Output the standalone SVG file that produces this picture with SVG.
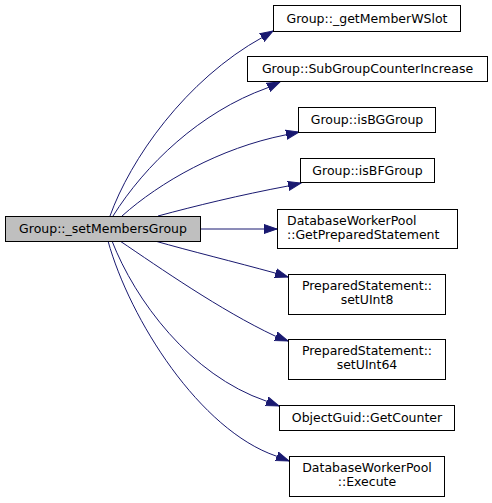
<svg xmlns="http://www.w3.org/2000/svg" width="492" height="503" viewBox="0 0 492 503">
<defs>
<style>
.node rect{fill:#ffffff;stroke:#000000;stroke-width:1}
.node.main rect{fill:#bfbfbf}
.node text{font-family:"DejaVu Sans","Bitstream Vera Sans",sans-serif;font-size:12.5px;fill:#000000}
.edges path{fill:none;stroke:#191970;stroke-width:1;marker-end:url(#arr)}
</style>
<marker id="arr" markerUnits="userSpaceOnUse" markerWidth="14" markerHeight="11" refX="13" refY="5.5" orient="auto">
<path d="M0,1 L13,5.5 L0,10 z" fill="#191970" stroke="#191970" stroke-width="1"/>
</marker>
</defs>
<rect width="492" height="503" fill="#ffffff"/>
<g class="edges">
<path d="M110,216 C130,160 185,80 263,37 L273,31"/>
<path d="M113,216 C145,165 200,112 267,88 L280,82"/>
<path d="M122,216 C160,182 220,148 285,135 L299,132"/>
<path d="M158,216 C195,206 240,195 288,186 L301,183"/>
<path d="M200,229 L264,229 L277,229"/>
<path d="M155,241 C190,251 235,262 275,273 L288,277"/>
<path d="M120,241 C160,268 220,310 275,336 L288,341"/>
<path d="M112,241 C135,300 190,375 266,401 L279,406"/>
<path d="M108,241 C130,320 200,430 276,456 L289,461"/>
</g>
<g id="node_main" class="node main">
<rect x="5.5" y="216.5" width="195" height="25"/>
<text x="103" y="233" text-anchor="middle">Group::_setMembersGroup</text>
</g>
<g id="node_getMemberWSlot" class="node">
<rect x="273.5" y="5.5" width="187" height="26"/>
<text x="367" y="22.5" text-anchor="middle">Group::_getMemberWSlot</text>
</g>
<g id="node_SubGroupCounterIncrease" class="node">
<rect x="247.5" y="56.5" width="240" height="25"/>
<text x="367.5" y="73" text-anchor="middle">Group::SubGroupCounterIncrease</text>
</g>
<g id="node_isBGGroup" class="node">
<rect x="298.5" y="107.5" width="137" height="25"/>
<text x="367" y="123.5" text-anchor="middle">Group::isBGGroup</text>
</g>
<g id="node_isBFGroup" class="node">
<rect x="300.5" y="158.5" width="134" height="24"/>
<text x="367.5" y="174.5" text-anchor="middle">Group::isBFGroup</text>
</g>
<g id="node_GetPreparedStatement" class="node">
<rect x="277.5" y="209.5" width="180" height="39"/>
<text x="287" y="225">DatabaseWorkerPool</text>
<text x="287" y="239">::GetPreparedStatement</text>
</g>
<g id="node_setUInt8" class="node">
<rect x="288.5" y="274.5" width="157" height="40"/>
<text x="367" y="290" text-anchor="middle">PreparedStatement::</text>
<text x="367" y="304" text-anchor="middle">setUInt8</text>
</g>
<g id="node_setUInt64" class="node">
<rect x="288.5" y="339.5" width="157" height="40"/>
<text x="367" y="355" text-anchor="middle">PreparedStatement::</text>
<text x="367" y="369" text-anchor="middle">setUInt64</text>
</g>
<g id="node_GetCounter" class="node">
<rect x="279.5" y="405.5" width="175" height="25"/>
<text x="367" y="422" text-anchor="middle">ObjectGuid::GetCounter</text>
</g>
<g id="node_Execute" class="node">
<rect x="289.5" y="456.5" width="155" height="40"/>
<text x="367" y="472" text-anchor="middle">DatabaseWorkerPool</text>
<text x="367" y="486" text-anchor="middle">::Execute</text>
</g>
</svg>
